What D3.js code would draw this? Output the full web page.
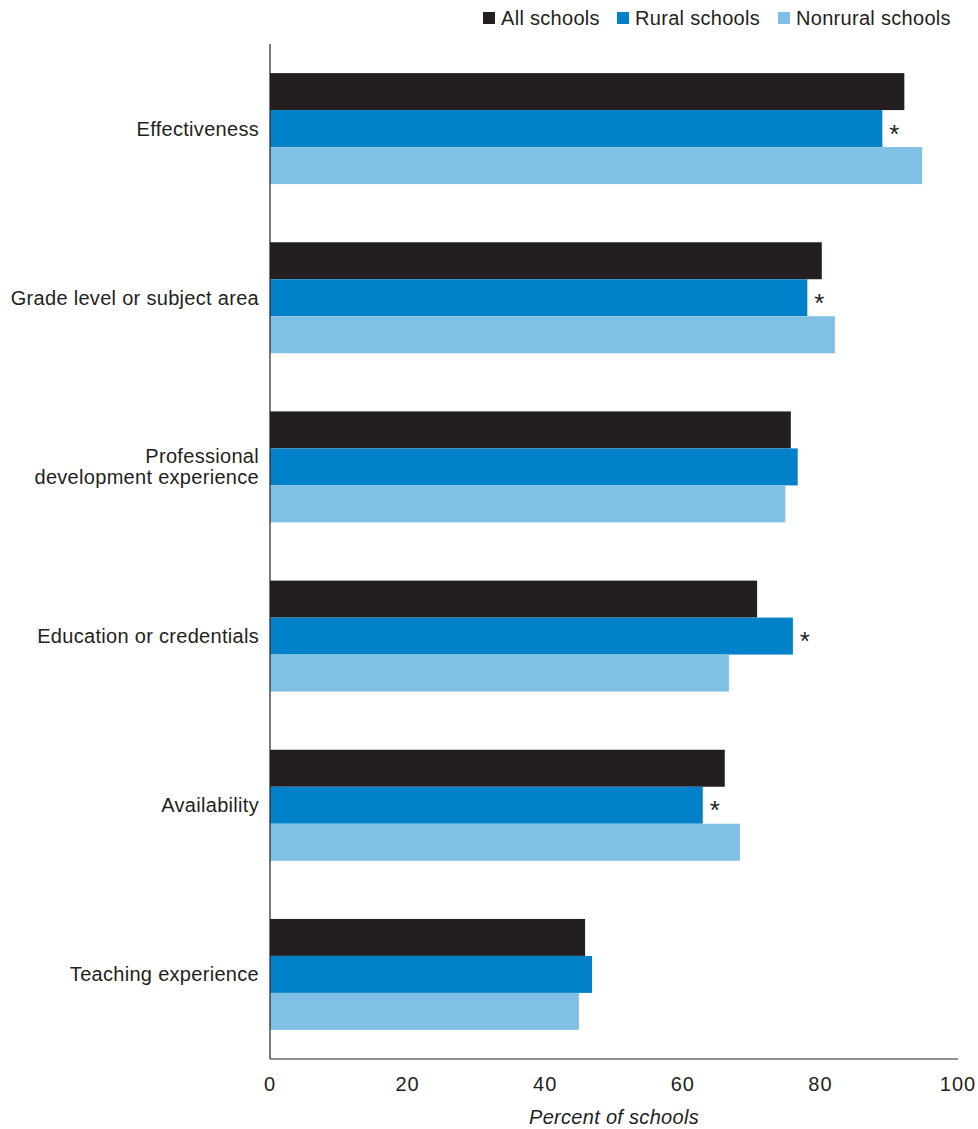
<!DOCTYPE html>
<html><head><meta charset="utf-8">
<script src="https://cdn.jsdelivr.net/npm/d3@7"></script>
<style>body{margin:0;background:#fff;} svg{display:block;font-family:"Liberation Sans",Arial,sans-serif;}</style>
</head><body>
<svg id="chart" width="978" height="1129"></svg>
<script>
const categories = ["Effectiveness","Grade level or subject area","Professional development experience","Education or credentials","Availability","Teaching experience"];
const categoryLines = [["Effectiveness"],["Grade level or subject area"],["Professional","development experience"],["Education or credentials"],["Availability"],["Teaching experience"]];
const seriesNames = ["All schools","Rural schools","Nonrural schools"];
const allSchools = [92.2, 80.2, 75.7, 70.8, 66.1, 45.8];
const ruralSchools = [89.0, 78.1, 76.7, 76.0, 62.9, 46.8];
const nonruralSchools = [94.8, 82.1, 74.9, 66.7, 68.3, 44.9];
const significant = [true, true, false, true, true, false];
const xTicks = [0,20,40,60,80,100];
const xTitle = "Percent of schools";
const colors = ["#231f20","#0081c9","#80c0e4"];

(function(){
const svg = d3.select("#chart");
const mLeft = 270, mRight = 958, mTop = 44, mBottom = 1059;
const FS = 20, LS = 0.3;
const x = d3.scaleLinear().domain([0,100]).range([mLeft,mRight]);
const y = d3.scaleBand().domain(categories).range([mTop,mBottom]).paddingInner(0.344).paddingOuter(0.172);
const ys = d3.scaleBand().domain(seriesNames).range([0,y.bandwidth()]);
const seriesVals = [allSchools, ruralSchools, nonruralSchools];

categories.forEach((c,i)=>{
  const g = svg.append("g").attr("transform",`translate(0,${y(c)})`);
  seriesNames.forEach((s,j)=>{
    g.append("rect").attr("x",x(0)).attr("y",ys(s)).attr("width",x(seriesVals[j][i])-x(0)).attr("height",ys.bandwidth()).attr("fill",colors[j]);
  });
  if(significant[i]){
    g.append("text").attr("x",x(ruralSchools[i])+12).attr("y",ys("Rural schools")+ys.bandwidth()/2+14)
      .attr("text-anchor","middle").attr("font-size",26).attr("fill","#231f20").text("*");
  }
  const lines = categoryLines[i];
  const t = svg.append("text").attr("text-anchor","end").attr("font-size",FS).attr("letter-spacing",LS).attr("fill","#231f20");
  const cy = y(c)+y.bandwidth()/2;
  lines.forEach((l,k)=>{
    t.append("tspan").attr("x",259).attr("y",cy+7+(k-(lines.length-1)/2)*21).text(l);
  });
});

svg.append("line").attr("x1",mLeft).attr("x2",mLeft).attr("y1",mTop).attr("y2",mBottom).attr("stroke","#231f20").attr("stroke-width",1.2);
svg.append("line").attr("x1",mLeft).attr("x2",mRight).attr("y1",mBottom).attr("y2",mBottom).attr("stroke","#231f20").attr("stroke-width",1.2);
xTicks.forEach(v=>{
  svg.append("text").attr("x",x(v)).attr("y",1091).attr("text-anchor","middle").attr("font-size",FS).attr("letter-spacing",1).attr("fill","#231f20").text(v);
});
svg.append("text").attr("x",614).attr("y",1124).attr("text-anchor","middle").attr("font-size",FS).attr("letter-spacing",LS).attr("font-style","italic").attr("fill","#231f20").text(xTitle);

const legX = [483,617,778];
seriesNames.forEach((s,j)=>{
  svg.append("rect").attr("x",legX[j]).attr("y",12).attr("width",12).attr("height",12).attr("fill",colors[j]);
  svg.append("text").attr("x",legX[j]+18).attr("y",25).attr("font-size",FS).attr("letter-spacing",LS).attr("fill","#231f20").text(s);
});
})();
</script>
</body></html>
